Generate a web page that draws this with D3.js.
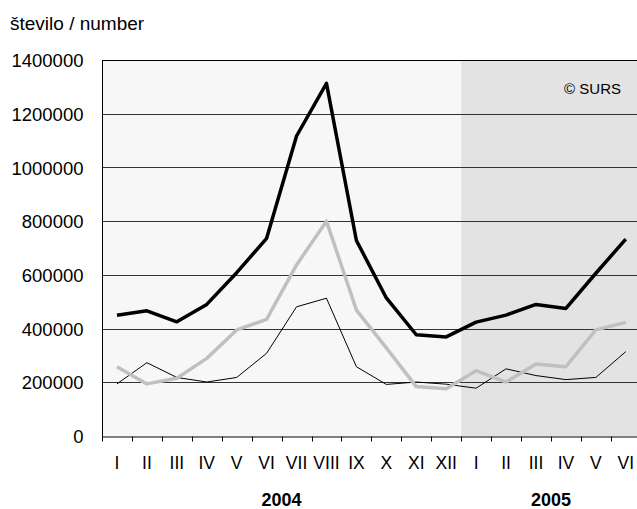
<!DOCTYPE html>
<html>
<head>
<meta charset="utf-8">
<script src="https://cdn.jsdelivr.net/npm/d3@7"></script>
<style>
body{margin:0;background:#fff;}
svg{display:block;font-family:"Liberation Sans",Arial,sans-serif;}
</style>
</head>
<body>
<div id="chart"></div>
<script>
// months, two years
var months=["I","II","III","IV","V","VI","VII","VIII","IX","X","XI","XII",
	"I","II","III","IV","V","VI"];
var years=[{label:"2004",from:0,to:12},{label:"2005",from:12,to:18}];

var seriesTotal=[450000,466000,425000,490000,608000,736000,1117000,1313000,728000,514000,377000,369000,
	424000,450000,490000,475000,606000,733000];
var seriesGrey=[258000,194000,215000,289000,395000,434000,637000,800000,469000,328000,184000,176000,
	243000,201000,268000,258000,395000,423000];
var seriesThin=[194000,273000,218000,201000,218000,308000,481000,513000,258000,192000,201000,193000,
	178000,250000,225000,210000,218000,314000];

var yTicks=[0,200000,400000,600000,800000,1000000,1200000,1400000];

var W=637,H=509;
var plotLeft=102,plotTop=60,plotBottom=436,step=29.93;
var plotRight=plotLeft+step*months.length;

var svg=d3.select("#chart").append("svg")
	.attr("width",W)
	.attr("height",H);

var x=d3.scaleBand().domain(d3.range(months.length)).range([plotLeft,plotRight]);
var y=d3.scaleLinear().domain([0,1400000]).range([plotBottom,plotTop]);

//background bands
svg.selectAll("rect.band")
	.data(years)
	.enter()
	.append("rect")
	.attr("class","band")
	.attr("x",function(d){return x(d.from);})
	.attr("y",plotTop)
	.attr("width",function(d){return x.bandwidth()*(d.to-d.from);})
	.attr("height",plotBottom-plotTop)
	.style("fill",function(d,i){return i==0?"#f7f7f7":"#e3e3e3";});

//gridlines
svg.selectAll("line.grid")
	.data(yTicks.slice(1))
	.enter()
	.append("line")
	.attr("class","grid")
	.attr("x1",plotLeft).attr("x2",plotRight)
	.attr("y1",function(d){return Math.round(y(d))+0.5;})
	.attr("y2",function(d){return Math.round(y(d))+0.5;})
	.style("stroke",function(d){return d==1400000?"#000":"#333";})
	.style("stroke-width",1);

//y axis
var yAxis=svg.append("g")
	.attr("transform","translate("+(plotLeft+0.5)+",0)")
	.call(d3.axisLeft(y).tickValues(yTicks).tickSize(0).tickPadding(19).tickFormat(d3.format("d")));
yAxis.select(".domain").attr("d","M0,"+plotTop+"V"+(plotBottom+0.5)).style("stroke","#000");
yAxis.selectAll("text").style("font-size","18.5px").style("fill","#000").attr("dy","0.36em");

//x axis
var xAxis=svg.append("g")
	.attr("transform","translate(0,"+(plotBottom+0.5)+")")
	.call(d3.axisBottom(x).tickSize(0).tickPadding(0).tickFormat(function(d){return months[d];}));
xAxis.select(".domain").style("stroke","#000");
xAxis.selectAll("text").style("font-size","17.5px").style("fill","#000").attr("y",32.5).attr("dy",0);
xAxis.selectAll("line.sep")
	.data(d3.range(months.length+1))
	.enter()
	.append("line")
	.attr("class","sep")
	.attr("x1",function(d){return Math.round(plotLeft+d*x.bandwidth())+0.5;})
	.attr("x2",function(d){return Math.round(plotLeft+d*x.bandwidth())+0.5;})
	.attr("y1",0).attr("y2",5)
	.style("stroke","#000");

//years
svg.selectAll("text.year")
	.data(years)
	.enter()
	.append("text")
	.attr("class","year")
	.attr("x",function(d){return (x(d.from)+x(d.to-1)+x.bandwidth())/2;})
	.attr("y",506)
	.attr("text-anchor","middle")
	.style("font-size","18px")
	.style("font-weight","bold")
	.text(function(d){return d.label;});

//lines
var line=d3.line()
	.x(function(d,i){return x(i)+x.bandwidth()/2;})
	.y(function(d){return y(d);});

var lines=[
	{data:seriesThin,color:"#000",width:1},
	{data:seriesGrey,color:"#c0c0c0",width:3.5},
	{data:seriesTotal,color:"#000",width:3.5}
];
svg.selectAll("path.series")
	.data(lines)
	.enter()
	.append("path")
	.attr("class","series")
	.attr("d",function(d){return line(d.data);})
	.style("fill","none")
	.style("stroke",function(d){return d.color;})
	.style("stroke-width",function(d){return d.width;})
	.style("stroke-linejoin","round");

svg.append("text")
	.attr("x",10).attr("y",30)
	.style("font-size","19px")
	.text("število / number");

svg.append("text")
	.attr("x",621).attr("y",94)
	.attr("text-anchor","end")
	.style("font-size","15px")
	.text("© SURS");
</script>
</body>
</html>
